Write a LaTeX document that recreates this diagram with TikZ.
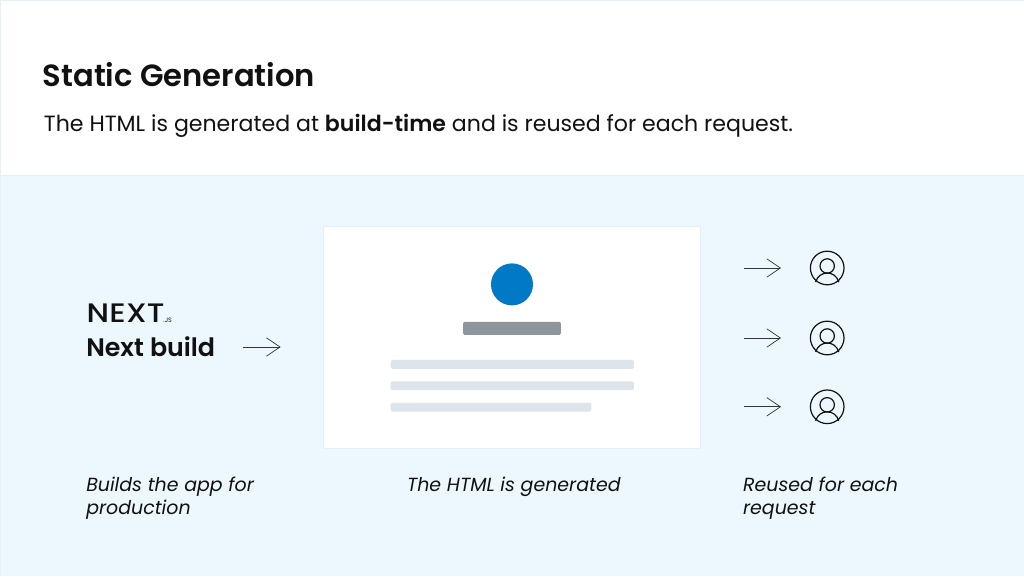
\documentclass[tikz,border=0pt]{standalone}
\usepackage{fontspec}
\setmainfont{Poppins}[BoldFont={Poppins SemiBold},ItalicFont={Poppins Italic}]
\newfontfamily\logofont[FakeStretch=1.17,LetterSpace=1]{Poppins Medium}
\usetikzlibrary{arrows.meta}
\definecolor{paleblue}{HTML}{ECF7FE}
\definecolor{edgeblue}{HTML}{E4EFF6}
\definecolor{inkblack}{HTML}{111111}
\definecolor{avatarblue}{HTML}{0079C6}
\definecolor{bargrey}{HTML}{8E959C}
\definecolor{linegrey}{HTML}{DDE4EA}
\tikzset{
    textnode/.style={inner sep=0pt,text=inkblack},
    caption/.style={textnode,anchor=north west,align=left,font=\fontsize{13.5pt}{16.4pt}\selectfont\itshape},
    flow/.style={draw=inkblack!85,line width=0.5pt,-{Straight Barb[length=3.4mm,width=4.6mm,line width=0.5pt]}},
    userring/.style={circle,draw=inkblack,line width=0.85pt,minimum size=0.84cm,inner sep=0pt},
    textbar/.style={fill=linegrey,rounded corners=1pt,inner sep=0pt,minimum height=0.22cm,anchor=west},
}
\begin{document}
\begin{tikzpicture}
    \useasboundingbox (0,0) rectangle (25.6,14.4);
    \fill[white] (0,0) rectangle (25.6,14.4);
    \fill[paleblue] (0,0) rectangle (25.6,10.025);
    \draw[edgeblue,line width=0.5pt] (0,0) -- (0,14.39) -- (25.6,14.39);
    \draw[edgeblue,line width=0.5pt] (0,10.025) -- (25.6,10.025);

    \node[textnode,anchor=base west,font=\fontsize{21.8pt}{27pt}\selectfont\bfseries] (title) at (1.06,12.225) {Static Generation};
    \node[textnode,anchor=base west,font=\fontsize{15.7pt}{20pt}\selectfont] (subtitle) at (1.09,11.1) {The HTML is generated at \textbf{build-time} and is reused for each request.};

    % left column
    \node[textnode,anchor=base west,font=\fontsize{19pt}{22pt}\logofont] (logo) at (2.16,6.34) {NEXT};
    \node[textnode,anchor=base west,font=\fontsize{4.5pt}{6pt}\selectfont] (logojs) at (4.08,6.34) {.JS};
    \node[textnode,anchor=base west,font=\fontsize{18pt}{22pt}\selectfont\bfseries] (build) at (2.15,5.475) {Next build};

    % page in the middle
    \node[fill=white,draw=edgeblue,line width=0.5pt,minimum width=9.425cm,minimum height=5.55cm,inner sep=0pt] (card) at (12.7875,5.975) {};
    \node[circle,fill=avatarblue,minimum size=1.05cm,inner sep=0pt] (avatar) at (12.8,7.29) {};
    \node[fill=bargrey,rounded corners=1pt,minimum width=2.44cm,minimum height=0.33cm,inner sep=0pt] (namebar) at (12.8,6.19) {};
    \node[textbar,minimum width=6.08cm] (lineone) at (9.76,5.29) {};
    \node[textbar,minimum width=6.08cm] (linetwo) at (9.76,4.755) {};
    \node[textbar,minimum width=5.02cm] (linethree) at (9.76,4.22) {};

    % build to page
    \draw[flow,shorten <=0.7cm,shorten >=1.05cm] (build.east |- 0,5.725) coordinate (buildout) -- (buildout -| card.west);

    % requests
    \foreach \name/\y in {userone/7.7,usertwo/5.95,userthree/4.23} {
        \node[userring] (\name) at (20.68,\y) {};
        \draw[inkblack,line width=0.85pt] ([yshift=0.05cm]\name.center) circle (0.18cm);
        \draw[inkblack,line width=0.85pt] ([xshift=-0.29cm,yshift=-0.35cm]\name.center) .. controls ([xshift=-0.2cm,yshift=-0.05cm]\name.center) and ([xshift=0.2cm,yshift=-0.05cm]\name.center) .. ([xshift=0.29cm,yshift=-0.35cm]\name.center);
        \draw[flow,shorten <=1.1cm,shorten >=0.72cm] (card.east |- \name) -- (\name);
    }

    % captions
    \node[caption] (capleft) at (2.15,2.48) {Builds the app for\\production};
    \node[caption] (capmid) at (10.17,2.48) {The HTML is generated};
    \node[caption] (capright) at (18.57,2.48) {Reused for each\\request};
\end{tikzpicture}
\end{document}
